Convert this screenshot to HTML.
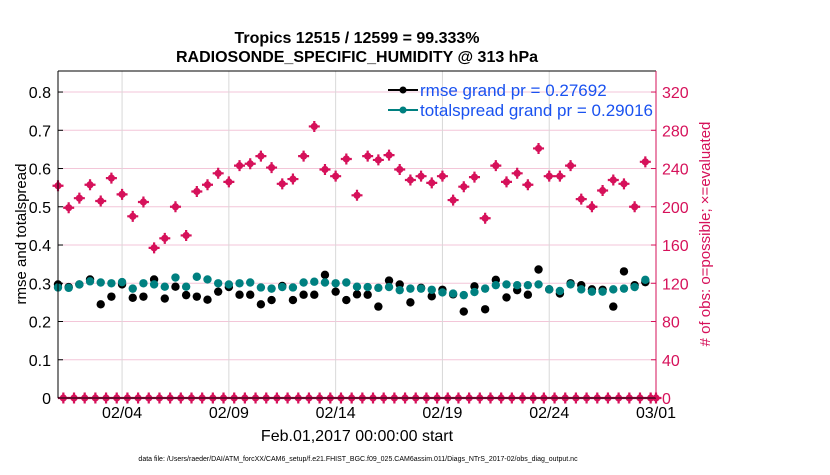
<!DOCTYPE html>
<html><head><meta charset="utf-8"><style>
body{margin:0;background:#fff;width:830px;height:470px;overflow:hidden;font-family:"Liberation Sans",sans-serif}
</style></head><body>
<svg id="chart" width="830" height="470" xmlns="http://www.w3.org/2000/svg" font-family="Liberation Sans, sans-serif">
<g id="grid"></g>
<g id="marks"></g>
<g id="axes"></g>
<text x="357" y="43" text-anchor="middle" font-size="16" font-weight="bold">Tropics 12515 / 12599 = 99.333%</text>
<text x="357" y="62" text-anchor="middle" font-size="16" font-weight="bold">RADIOSONDE_SPECIFIC_HUMIDITY @ 313 hPa</text>
<text transform="translate(26,234) rotate(-90)" text-anchor="middle" font-size="15">rmse and totalspread</text>
<text transform="translate(710,234) rotate(-90)" text-anchor="middle" font-size="15" fill="#d6115a">#  of obs: o=possible; ×=evaluated</text>
<text x="357" y="441" text-anchor="middle" font-size="16">Feb.01,2017 00:00:00 start</text>
<text x="358" y="461" text-anchor="middle" font-size="7">data file: /Users/raeder/DAI/ATM_forcXX/CAM6_setup/f.e21.FHIST_BGC.f09_025.CAM6assim.011/Diags_NTrS_2017-02/obs_diag_output.nc</text>
<g>
<line x1="388" y1="90" x2="418" y2="90" stroke="#000" stroke-width="2"/><circle cx="403" cy="90" r="3.5" fill="#000"/>
<text x="420" y="96" font-size="17" fill="#1a52f0">rmse grand pr = 0.27692</text>
<line x1="388" y1="110" x2="418" y2="110" stroke="#008080" stroke-width="2"/><circle cx="403" cy="110" r="3.5" fill="#008080"/>
<text x="420" y="116" font-size="17" fill="#1a52f0">totalspread grand pr = 0.29016</text>
</g>
</svg>
<script>
const dateTicks=[3,8,13,18,23,28];
const dateLabels=["02/04","02/09","02/14","02/19","02/24","03/01"];
const leftTicks=[0,0.1,0.2,0.3,0.4,0.5,0.6,0.7,0.8];
const leftLabels=["0","0.1","0.2","0.3","0.4","0.5","0.6","0.7","0.8"];
const rightTicks=[0,40,80,120,160,200,240,280,320];
const obsCount=[222,199,209,223,206,230,213,190,205,157,167,200,170,216,223,235,226,243,245,253,241,224,229,253,284,239,232,250,212,253,249,254,239,228,232,225,232,207,221,231,188,243,226,235,223,261,232,232,243,208,200,217,228,224,200,247];
const rmse=[0.297,0.29,0.297,0.31,0.245,0.265,0.297,0.262,0.265,0.31,0.26,0.291,0.269,0.265,0.257,0.278,0.29,0.27,0.27,0.245,0.256,0.293,0.256,0.27,0.27,0.322,0.278,0.256,0.271,0.27,0.239,0.307,0.297,0.25,0.288,0.266,0.283,0.271,0.226,0.292,0.232,0.309,0.263,0.282,0.27,0.336,0.284,0.273,0.3,0.295,0.284,0.283,0.239,0.331,0.295,0.303];
const spread=[0.289,0.288,0.297,0.305,0.302,0.3,0.303,0.286,0.3,0.297,0.291,0.315,0.291,0.317,0.31,0.3,0.297,0.3,0.302,0.289,0.286,0.29,0.289,0.302,0.304,0.302,0.3,0.302,0.291,0.29,0.288,0.29,0.282,0.286,0.286,0.283,0.276,0.273,0.269,0.277,0.286,0.295,0.297,0.295,0.295,0.297,0.284,0.28,0.297,0.284,0.278,0.278,0.284,0.286,0.29,0.309];
const L=58,R=656,T=71,B=398;
const X=d=>L+(R-L)*d/28;
const Y=v=>B-(B-T)*v/0.855;
const Y2=c=>Y(c/400);
const NS="http://www.w3.org/2000/svg";
function mk(p,tag,a){const e=document.createElementNS(NS,tag);for(const k in a)e.setAttribute(k,a[k]);p.appendChild(e);return e;}
const grid=document.getElementById('grid'),marks=document.getElementById('marks'),axes=document.getElementById('axes');
leftTicks.forEach((v,i)=>{
 if(v>0){const g=mk(grid,'line',{x1:L,x2:R,y1:Y(v),y2:Y(v),stroke:'#f3c6d8','stroke-width':1});
 
 }
 const t=mk(axes,'text',{x:L-7,y:Y(v)+6,'text-anchor':'end','font-size':16});t.textContent=leftLabels[i];
 
 
 mk(axes,'line',{x1:L,x2:L+5,y1:Y(v),y2:Y(v),stroke:'#000'});
});
rightTicks.forEach(c=>{
 const t=mk(axes,'text',{x:R+6,y:Y2(c)+6,'font-size':16,fill:'#d6115a'});t.textContent=c;
 
 
 mk(axes,'line',{x1:R-5,x2:R,y1:Y2(c),y2:Y2(c),stroke:'#d6115a'});
});
dateTicks.forEach((d,i)=>{
 const g=mk(grid,'line',{x1:X(d),x2:X(d),y1:T,y2:B,stroke:'#d8d8d8','stroke-width':1});
 
 
 const t=mk(axes,'text',{x:X(d),y:B+20,'text-anchor':'middle','font-size':16});t.textContent=dateLabels[i];
 
 
});
mk(axes,'line',{x1:L,x2:L,y1:T,y2:B,stroke:'#000'});
mk(axes,'line',{x1:L,x2:R,y1:T,y2:T,stroke:'#000'});
mk(axes,'line',{x1:L,x2:R,y1:B,y2:B,stroke:'#000'});
mk(axes,'line',{x1:R,x2:R,y1:T,y2:B,stroke:'#d6115a'});
function pinkMark(cx,cy){
 const g=mk(marks,'g',{});
 mk(g,'circle',{cx:cx,cy:cy,r:3.6,fill:'#d6115a'});
 mk(g,'path',{d:`M${cx-5.5} ${cy}H${cx+5.5}M${cx} ${cy-5.5}V${cy+5.5}`,stroke:'#d6115a','stroke-width':2.2});
 return g;
}
for(let i=0;i<57;i++){const d=Math.min(0.25+0.5*i,28);const g=pinkMark(X(d),B);
 
 }
obsCount.forEach((c,i)=>{const g=pinkMark(X(i*0.5),Y2(c));
 
 });
rmse.forEach((v,i)=>{const e=mk(marks,'circle',{cx:X(i*0.5),cy:Y(v),r:4.2,fill:'#000'});
 
 });
spread.forEach((v,i)=>{const e=mk(marks,'circle',{cx:X(i*0.5),cy:Y(v),r:4.2,fill:'#008080'});
 
 });
</script>
</body></html>
